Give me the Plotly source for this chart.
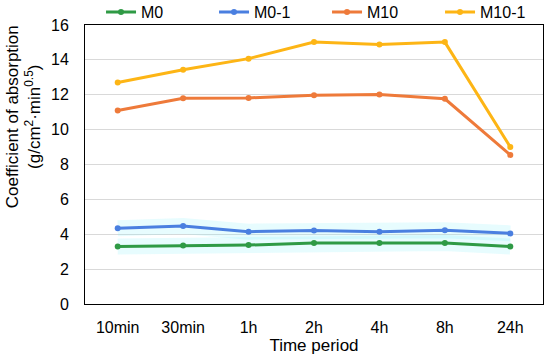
import plotly.graph_objects as go

categories = ["10min", "30min", "1h", "2h", "4h", "8h", "24h"]
m0 = [3.30, 3.36, 3.38, 3.50, 3.50, 3.50, 3.30]
m0_1 = [4.35, 4.47, 4.15, 4.22, 4.15, 4.23, 4.05]
m10 = [11.10, 11.80, 11.82, 11.97, 12.01, 11.77, 8.55]
m10_1 = [12.70, 13.43, 14.07, 15.02, 14.88, 15.02, 9.00]

series = [
    ("M0", m0, "#2f9a45"),
    ("M0-1", m0_1, "#4a7fe0"),
    ("M10", m10, "#ee7a3a"),
    ("M10-1", m10_1, "#fdb515"),
]

fig = go.Figure()
# soft cyan glow under the low series
for name, vals, col in series[:2]:
    fig.add_trace(go.Scatter(x=categories, y=vals, mode="lines",
                             line=dict(color="rgba(120,240,250,0.18)", width=16),
                             showlegend=False, hoverinfo="skip"))
for name, vals, col in series:
    fig.add_trace(go.Scatter(x=categories, y=vals, mode="lines+markers", name=name,
                             line=dict(color=col, width=3),
                             marker=dict(color=col, size=6)))

fig.update_layout(
    width=550, height=361,
    margin=dict(l=85, r=7, t=25, b=57, autoexpand=False),
    paper_bgcolor="white", plot_bgcolor="white",
    font=dict(family="Liberation Sans, Arial, sans-serif", size=16, color="#000"),
    legend=dict(orientation="h", x=0.035, xanchor="left", y=1.107, yanchor="top",
                font=dict(size=16), entrywidth=68, itemwidth=30,
                bgcolor="rgba(0,0,0,0)"),
    showlegend=True,
)
fig.add_annotation(
    text="Coefficient of absorption<br>(g/cm<sup>2</sup>·min<sup>0.5</sup>)",
    xref="paper", yref="paper", x=-0.135, y=0.67, xanchor="center", yanchor="middle",
    textangle=-90, showarrow=False, font=dict(size=17),
)
fig.update_xaxes(type="category", range=[-0.5, 6.5], showgrid=False, automargin=False,
                 showline=True, linecolor="#000", linewidth=1, mirror=True,
                 ticks="", tickfont=dict(size=16), ticklabelstandoff=9,
                 title=dict(text="Time period", font=dict(size=17), standoff=2))
fig.update_yaxes(range=[0, 16], dtick=2, showgrid=True, gridcolor="#d9d9d9", gridwidth=1,
                 showline=True, linecolor="#000", linewidth=1, mirror=True, automargin=False,
                 ticks="", tickfont=dict(size=16), zeroline=False, ticklabelstandoff=12)

fig.write_html("out.html", config={"displayModeBar": False},
               post_script="document.body.style.margin='0';")
